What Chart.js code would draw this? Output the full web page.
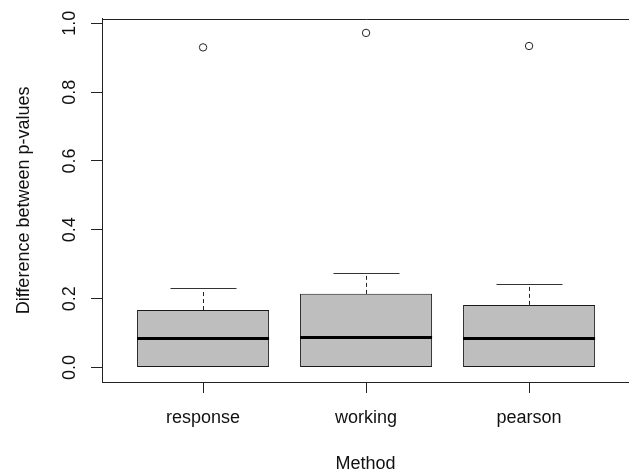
<!DOCTYPE html>
<html>
<head>
<meta charset="utf-8">
<script src="https://cdn.jsdelivr.net/npm/chart.js@4/dist/chart.umd.min.js"></script>
<style>
  html, body { margin: 0; padding: 0; background: #fff; overflow: hidden; }
  canvas { display: block; }
</style>
</head>
<body>
<canvas id="c" width="629" height="475"></canvas>
<script>
// Box-plot summaries per residual method
const methods = ['response', 'working', 'pearson'];
const lowerWhisker = [0, 0, 0];
const q1 = [0, 0, 0];
const median = [0.084, 0.087, 0.084];
const q3 = [0.167, 0.214, 0.182];
const upperWhisker = [0.231, 0.275, 0.243];
const outliers = [0.930, 0.972, 0.934];
const yTicks = [0, 0.2, 0.4, 0.6, 0.8, 1.0];

const FONT = "'Liberation Sans', Arial, sans-serif";
const positions = methods.map((m, i) => i + 1);

// Medians, whiskers, staples and the top edge of the plot frame
const boxExtras = {
  id: 'boxExtras',
  afterDatasetsDraw(chart) {
    const ctx = chart.ctx;
    const xs = chart.scales.x, ys = chart.scales.y;
    const bars = chart.getDatasetMeta(0).data;
    ctx.save();
    positions.forEach((p, i) => {
      const cx = Math.round(xs.getPixelForValue(p)) + 0.5;
      const half = bars[i].width / 2;
      const stapleHalf = half / 2;
      const yMed = ys.getPixelForValue(median[i]);
      const yQ3 = ys.getPixelForValue(q3[i]);
      const yQ1 = ys.getPixelForValue(q1[i]);
      const yHi = ys.getPixelForValue(upperWhisker[i]);
      const yLo = ys.getPixelForValue(lowerWhisker[i]);
      ctx.lineWidth = 1;
      // upper whisker and staple
      if (upperWhisker[i] > q3[i]) {
        ctx.strokeStyle = '#222';
        ctx.setLineDash([4, 3]);
        ctx.beginPath();
        ctx.moveTo(cx, yQ3);
        ctx.lineTo(cx, yHi);
        ctx.stroke();
        ctx.setLineDash([]);
        ctx.strokeStyle = '#333';
        ctx.beginPath();
        ctx.moveTo(cx - stapleHalf, Math.round(yHi) + 0.5);
        ctx.lineTo(cx + stapleHalf, Math.round(yHi) + 0.5);
        ctx.stroke();
      }
      // lower whisker and staple
      if (lowerWhisker[i] < q1[i]) {
        ctx.strokeStyle = '#222';
        ctx.setLineDash([4, 3]);
        ctx.beginPath();
        ctx.moveTo(cx, yQ1);
        ctx.lineTo(cx, yLo);
        ctx.stroke();
        ctx.setLineDash([]);
        ctx.strokeStyle = '#333';
        ctx.beginPath();
        ctx.moveTo(cx - stapleHalf, Math.round(yLo) + 0.5);
        ctx.lineTo(cx + stapleHalf, Math.round(yLo) + 0.5);
        ctx.stroke();
      }
      // median
      ctx.setLineDash([]);
      ctx.strokeStyle = '#000';
      ctx.lineWidth = 3;
      ctx.beginPath();
      ctx.moveTo(bars[i].x - half, yMed);
      ctx.lineTo(bars[i].x + half, yMed);
      ctx.stroke();
    });
    // top edge of the frame; the right edge lies just past the canvas
    const a = chart.chartArea;
    const L = Math.round(a.left) + 0.5, T = Math.round(a.top) + 0.5;
    ctx.strokeStyle = '#222';
    ctx.lineWidth = 1;
    ctx.beginPath();
    ctx.moveTo(L, T);
    ctx.lineTo(a.right + 2, T);
    ctx.stroke();
    ctx.restore();
  }
};

new Chart(document.getElementById('c'), {
  data: {
    datasets: [
      {
        type: 'bar',
        data: positions.map((p, i) => ({ x: p, y: [q1[i], q3[i]] })),
        backgroundColor: '#bebebe',
        borderColor: '#1a1a1a',
        borderWidth: 1,
        borderSkipped: false,
        barPercentage: 0.81,
        categoryPercentage: 1.0,
        order: 2
      },
      {
        type: 'scatter',
        data: positions.map((p, i) => ({ x: p, y: outliers[i] })),
        pointStyle: 'circle',
        pointRadius: 3.7,
        borderColor: '#222',
        borderWidth: 1,
        backgroundColor: 'rgba(255,255,255,0)',
        order: 1
      }
    ]
  },
  options: {
    responsive: false,
    animation: false,
    layout: { autoPadding: false, padding: { top: 17, right: 0, bottom: 0, left: 0 } },
    plugins: { legend: { display: false }, tooltip: { enabled: false } },
    scales: {
      x: {
        type: 'linear',
        offset: false,
        min: 0.38,
        max: 3.613,
        afterBuildTicks: (s) => { s.ticks = positions.map(v => ({ value: v })); },
        afterFit: (s) => { s.height = 93; s.paddingLeft = 0; s.paddingRight = 0; },
        grid: { offset: false, drawOnChartArea: false, drawTicks: true, tickLength: 11, tickColor: '#222' },
        border: { display: true, color: '#222', width: 1 },
        ticks: {
          callback: (v) => methods[v - 1],
          color: '#111',
          font: { family: FONT, size: 18 },
          padding: 14,
          maxRotation: 0,
          autoSkip: false
        },
        title: {
          display: true,
          text: 'Method',
          color: '#111',
          font: { family: FONT, size: 18 },
          padding: { top: 0, bottom: 0 }
        }
      },
      y: {
        type: 'linear',
        min: -0.042,
        max: 1.013,
        afterBuildTicks: (s) => { s.ticks = yTicks.map(v => ({ value: v })); },
        afterFit: (s) => { s.width = 102; },
        grid: { drawOnChartArea: false, drawTicks: true, tickLength: 11, tickColor: '#222' },
        border: { display: true, color: '#222', width: 1 },
        ticks: {
          callback: (v) => v.toFixed(1),
          color: '#111',
          font: { family: FONT, size: 18 },
          minRotation: 90,
          maxRotation: 90,
          crossAlign: 'center',
          padding: 8,
          autoSkip: false
        },
        title: {
          display: true,
          text: 'Difference between p-values',
          color: '#111',
          font: { family: FONT, size: 18 },
          padding: { top: 13, bottom: 0 }
        }
      }
    }
  },
  plugins: [boxExtras]
});
</script>
</body>
</html>
